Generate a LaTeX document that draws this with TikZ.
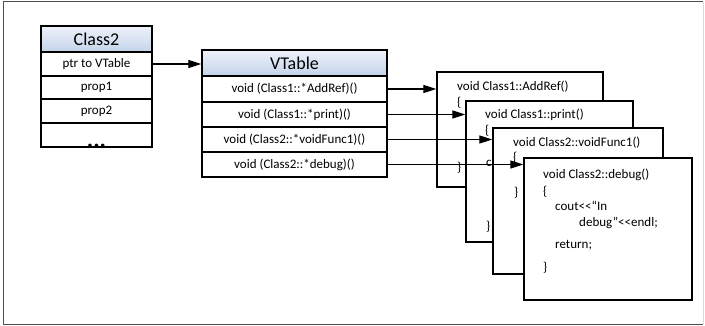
\documentclass[tikz,border=0pt]{standalone}
\usepackage{fontspec}
\setmainfont{Carlito}
\usetikzlibrary{arrows.meta}

\definecolor{hdrtop}{HTML}{EEF2FA}
\definecolor{hdrbot}{HTML}{C4D3EA}

\tikzset{
	hdr/.style={draw, line width=1.3pt, top color=hdrtop, bottom color=hdrbot, inner sep=0pt, font=\fontsize{18}{18}\selectfont},
	row/.style={draw, line width=1.3pt, fill=white, inner sep=0pt, font=\fontsize{13}{13}\selectfont},
	fnbox/.style={draw, line width=1.3pt, fill=white, inner sep=0pt},
	code/.style={anchor=base west, inner sep=0pt, font=\fontsize{13}{13}\selectfont},
	ptr/.style={line width=1.2pt, -{Triangle[length=13pt,width=8pt]}}
}

\begin{document}
\begin{tikzpicture}[x=1pt,y=-1pt]
\useasboundingbox (0,0) rectangle (705,326);
\draw[line width=1pt, black!70] (703,2) -- (3,2) -- (3,324) -- (703,324);
\draw[line width=1pt, black!15] (703,2) -- (703,324);

% Class2
\node at (96.5,39)[hdr, minimum width=111pt, minimum height=26pt](C){Class2};
\node at (96.5,64)[row, minimum width=111pt, minimum height=24pt](C1){ptr to VTable};
\node at (96.5,87.5)[row, minimum width=111pt, minimum height=23pt](C2){prop1};
\node at (96.5,111)[row, minimum width=111pt, minimum height=24pt](C3){prop2};
\node at (96.5,135)[row, minimum width=111pt, minimum height=24pt](C4){};
\node at (96.5,148)[anchor=base, inner sep=0pt, font=\fontsize{24}{24}\selectfont\bfseries](dots){...};
\draw[line width=1.3pt] (C4.south west) -- (C4.south east);

% VTable
\node at (294.5,63)[hdr, minimum width=185pt, minimum height=26pt](V){VTable};
\node at (294.5,89)[row, minimum width=185pt, minimum height=26pt](V1){void (Class1::*AddRef)()};
\node at (294.5,114.5)[row, minimum width=185pt, minimum height=25pt](V2){void (Class1::*print)()};
\node at (294.5,139.5)[row, minimum width=185pt, minimum height=25pt](V3){void (Class2::*voidFunc1)()};
\node at (294.5,164.5)[row, minimum width=185pt, minimum height=25pt](V4){void (Class2::*debug)()};

\draw[ptr] (C1.east) -- (V.west |- C1.east);

% functions
\node at (520,129.5)[fnbox, minimum width=166pt, minimum height=115pt](F1){};
\node at (457,91)[code](F1a){void Class1::AddRef()};
\node at (457,107)[code](F1b){\{};
\node at (457,172)[code](F1c){\}};

\node at (549.5,171.5)[fnbox, minimum width=167pt, minimum height=141pt](F2){};
\node at (485,119)[code](F2a){void Class1::print()};
\node at (485,135)[code](F2b){\{};
\node at (486,167)[code](F2c){c};
\node at (486,231)[code](F2d){\}};

\node at (578,201)[fnbox, minimum width=170pt, minimum height=146pt](F3){};
\node at (513,147)[code](F3a){void Class2::voidFunc1()};
\node at (513,162)[code](F3b){\{};
\node at (514,197)[code](F3c){\}};

\node at (608,229)[fnbox, minimum width=168pt, minimum height=142pt](F4){};
\node at (543,179)[code](F4a){void Class2::debug()};
\node at (543,196)[code](F4b){\{};
\node at (555,211)[code](F4c){cout<\kern0pt<“In};
\node at (579,226)[code](F4d){debug”<\kern0pt<endl;};
\node at (555,249)[code](F4e){return;};
\node at (543,272)[code](F4f){\}};

\draw[ptr] (V1.east) -- (F1.west |- V1.east);
\draw[ptr] (V2.east) -- (F2.west |- V2.east);
\draw[ptr] (V3.east) -- (F3.west |- V3.east);
\draw[ptr] (V4.east) -- (F4.west |- V4.east);
\end{tikzpicture}
\end{document}
